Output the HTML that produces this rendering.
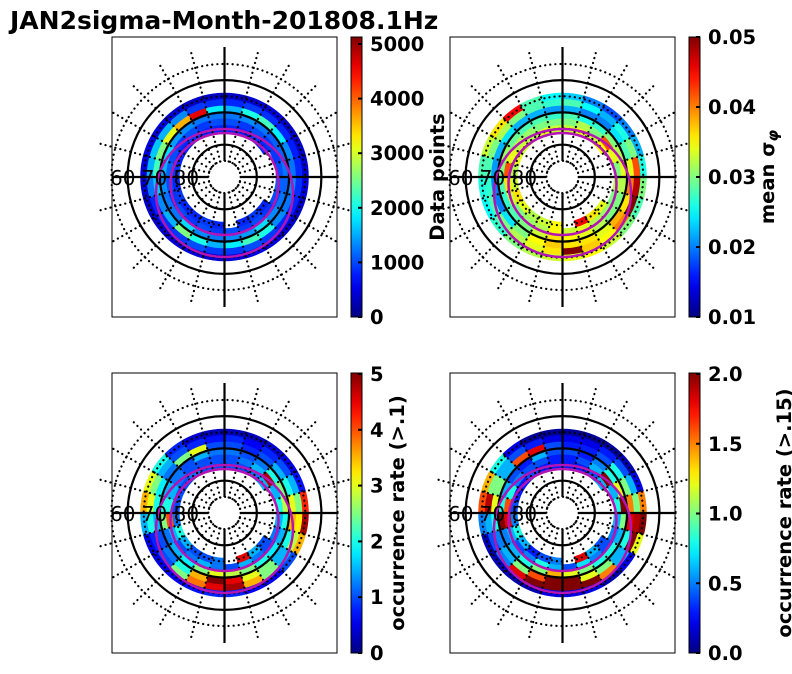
<!DOCTYPE html>
<html><head><meta charset="utf-8"><style>
body{margin:0;background:#fff}
svg{display:block;font-family:"DejaVu Sans","Liberation Sans",sans-serif}
</style></head><body>
<svg id="fig" width="792" height="674" viewBox="0 0 792 674">
<text x="10" y="29" font-size="25" font-weight="bold">JAN2sigma-Month-201808.1Hz</text>
</svg>
<script>
// latitude bin edges (deg) and MLT sectors (24, clockwise from top)
const latEdges=[64,66,68,70,72,74,76];
const N=null;
const dataPoints=[
[350,400,450,350,350,400,450,350,400,450,500,450,400,450,450,400,350,400,450,500,450,400,350,350],
[800,900,850,800,750,800,850,800,800,900,1000,900,900,1000,900,850,800,1200,1500,1600,1500,1300,900,850],
[1500,2000,2200,1800,1300,1200,1300,1200,1300,2000,2200,1800,1500,2000,2500,1500,1300,1600,2200,2500,3000,3500,4500,1800],
[1200,1300,1200,1100,1100,1200,1100,1200,1300,1700,1400,1300,1200,1300,1700,1200,1200,1300,1500,1700,1400,1300,1200,1200],
[1000,900,1000,900,900,1000,1100,1000,900,1000,900,1000,900,1000,900,1000,900,1000,1100,1000,900,1000,900,1000],
[800,800,900,800,N,N,N,N,800,900,800,N,800,900,800,800,900,800,900,800,800,900,800,800]];
const meanSigma=[
[0.023,0.020,0.018,0.020,0.022,0.026,0.030,0.028,0.030,0.033,0.035,0.034,0.033,0.032,0.030,0.027,0.025,0.026,0.028,0.033,0.036,0.045,0.028,0.025],
[0.028,0.025,0.022,0.026,0.030,0.042,0.048,0.050,0.040,0.035,0.037,0.050,0.036,0.034,0.032,0.030,0.028,0.027,0.028,0.030,0.032,0.030,0.028,0.027],
[0.022,0.020,0.020,0.024,0.028,0.034,0.040,0.036,0.038,0.034,0.036,0.036,0.037,0.035,0.030,0.024,0.020,0.020,0.021,0.022,0.024,0.022,0.022,0.021],
[0.028,0.026,0.027,0.030,0.032,0.034,0.032,0.030,0.030,0.032,0.034,0.035,0.036,0.033,0.030,0.028,0.027,0.028,0.030,0.031,0.029,0.028,0.028,0.027],
[0.030,0.032,0.030,0.042,0.034,0.030,0.032,0.030,0.031,0.032,0.034,0.033,0.035,0.032,0.031,0.030,0.033,0.036,0.042,0.034,0.032,0.031,0.030,0.030],
[0.033,0.034,0.033,0.035,N,N,N,N,0.034,0.036,0.045,N,0.035,0.033,0.032,0.034,0.036,0.033,0.032,0.034,0.033,0.032,0.034,0.033]];
const occ1=[
[0.3,0.3,0.4,0.5,0.7,4.2,4.8,3.5,1.0,0.6,0.6,0.8,0.8,0.7,0.6,0.5,0.5,1.5,3.5,3.0,2.0,0.8,0.4,0.3],
[0.8,0.6,0.8,1.0,1.5,2.5,3.2,2.8,1.5,2.5,3.5,4.8,4.5,3.8,2.5,1.0,0.8,2.0,3.0,2.5,1.5,1.0,0.8,0.7],
[1.0,0.8,1.0,1.5,2.0,3.0,3.5,2.0,1.5,2.5,3.0,4.5,5.0,3.5,2.0,1.2,1.0,1.5,2.0,1.8,1.2,2.5,3.0,1.0],
[1.2,1.0,1.2,2.0,2.5,2.8,2.0,1.5,1.8,2.0,2.5,2.8,3.0,2.5,1.8,1.5,1.2,2.5,2.0,1.5,1.2,1.0,1.5,1.2],
[1.0,1.2,1.5,4.8,1.5,2.0,1.5,1.2,1.0,1.2,1.5,1.0,1.2,1.5,1.2,1.0,1.5,4.0,2.0,1.5,1.2,1.0,1.0,1.0],
[1.0,1.0,1.2,1.5,N,N,N,N,1.0,1.5,4.5,N,1.2,1.0,1.0,1.5,2.0,1.2,1.0,1.0,1.0,1.2,1.0,1.0]];
const occ15=[
[0.05,0.05,0.05,0.1,0.2,1.5,2.0,1.2,0.2,0.1,0.2,0.2,0.2,0.1,0.1,0.1,0.1,0.5,1.6,1.4,0.8,0.2,0.05,0.05],
[0.2,0.2,0.3,0.4,0.6,1.0,1.9,2.0,0.6,1.5,2.0,2.0,2.0,2.0,1.8,0.5,0.4,0.6,1.9,1.0,0.6,0.4,0.3,0.2],
[0.3,0.3,0.4,0.8,1.0,1.5,1.8,0.8,0.6,1.0,1.2,2.0,2.0,1.6,1.0,0.6,0.5,0.8,1.2,1.0,0.6,1.6,1.8,0.4],
[0.4,0.3,0.5,0.8,1.2,2.0,1.0,0.6,0.8,0.8,1.0,1.2,1.4,1.0,0.8,0.6,0.5,2.0,0.8,0.6,0.4,0.3,0.6,0.4],
[0.3,0.4,0.6,2.0,0.6,0.8,0.6,0.5,0.4,0.5,0.7,0.4,0.6,0.8,0.5,0.4,0.6,1.8,1.6,0.8,0.5,0.4,0.4,0.3],
[0.3,0.3,0.4,0.6,N,N,N,N,0.4,0.6,1.8,N,0.5,0.4,0.3,0.6,0.8,0.5,0.4,0.3,0.3,0.4,0.3,0.3]];
const cb1Ticks=["0","1000","2000","3000","4000","5000"];
const cb2Ticks=["0.01","0.02","0.03","0.04","0.05"];
const cb3Ticks=["0","1","2","3","4","5"];
const cb4Ticks=["0.0","0.5","1.0","1.5","2.0"];

const NS="http://www.w3.org/2000/svg";
const svg=document.getElementById('fig');
function mk(tag,attrs,parent){const e=document.createElementNS(NS,tag);for(const k in attrs)e.setAttribute(k,attrs[k]);(parent||svg).appendChild(e);return e;}
function jet(t){t=Math.max(0,Math.min(1,t));const c=v=>Math.round(255*Math.max(0,Math.min(1,1.5-Math.abs(v))));return `rgb(${c(4*t-3)},${c(4*t-2)},${c(4*t-1)})`;}
const PX=3.23; // px per degree latitude
function rOf(lat){return (90-lat)*PX;}

const panels=[
 {x:112,y:37,data:dataPoints,min:0,max:5000,cbx:351,cbTop:44,cbBot:317,ticks:cb1Ticks,tmin:0,tmax:5000,label:"Data points",lx:444,name:"data-points"},
 {x:450,y:37,data:meanSigma,min:0.01,max:0.05,cbx:689,cbTop:37,cbBot:317,ticks:cb2Ticks,tmin:0.01,tmax:0.05,label:"mean σ",sub:"φ",lx:774,name:"mean-sigma"},
 {x:112,y:373,data:occ1,min:0,max:5,cbx:351,cbTop:374,cbBot:653,ticks:cb3Ticks,tmin:0,tmax:5,label:"occurrence rate (>.1)",lx:404,name:"occurrence-rate-01"},
 {x:450,y:373,data:occ15,min:0,max:2,cbx:689,cbTop:374,cbBot:653,ticks:cb4Ticks,tmin:0,tmax:2,label:"occurrence rate (>.15)",lx:791,name:"occurrence-rate-015"}];

panels.forEach((p,pi)=>{
 const g=mk('g',{});
 
 
 const cx=p.x+112.5, cy=p.y+140;
 const cells=mk('g',{},g);
 
 
 p.data.forEach((row,ri)=>{
  const r1=rOf(latEdges[ri]), r2=rOf(latEdges[ri+1]);
  row.forEach((v,ci)=>{
   if(v===null)return;
   const a1=(ci*15-90)*Math.PI/180, a2=((ci+1)*15-90)*Math.PI/180;
   const P=(r,a)=>`${(cx+r*Math.cos(a)).toFixed(2)},${(cy+r*Math.sin(a)).toFixed(2)}`;
   const d=`M${P(r1,a1)}A${r1},${r1} 0 0 1 ${P(r1,a2)}L${P(r2,a2)}A${r2},${r2} 0 0 0 ${P(r2,a1)}Z`;
   const c=jet((v-p.min)/(p.max-p.min));
   const e=mk('path',{d:d,fill:c,stroke:c,'stroke-width':0.6},cells);
   
   
  });
 });
 const grid=mk('g',{fill:'none',stroke:'#000'},g);
 
 
 [85,75,65,55].forEach(l=>mk('circle',{cx:cx,cy:cy,r:rOf(l),'stroke-width':2.2,'stroke-dasharray':'0.1 5','stroke-linecap':'round'},grid));
 for(let a=15;a<360;a+=15){if(a%90===0)continue;const t=a*Math.PI/180;
  mk('line',{x1:cx+16*Math.cos(t),y1:cy+16*Math.sin(t),x2:cx+132*Math.cos(t),y2:cy+132*Math.sin(t),'stroke-width':2.2,'stroke-dasharray':'0.1 5','stroke-linecap':'round'},grid);}
 [80,70,60].forEach(l=>mk('circle',{cx:cx,cy:cy,r:rOf(l),'stroke-width':2.2},grid));
 mk('line',{x1:p.x,y1:cy,x2:cx-16,y2:cy,'stroke-width':2.2},grid);
 mk('line',{x1:cx+16,y1:cy,x2:p.x+225,y2:cy,'stroke-width':2.2},grid);
 mk('line',{x1:cx,y1:cy-130,x2:cx,y2:cy-16,'stroke-width':2.2},grid);
 mk('line',{x1:cx,y1:cy+16,x2:cx,y2:cy+130,'stroke-width':2.2},grid);
 const o1=mk('ellipse',{cx:cx,cy:cy+16,rx:68.5,ry:64,fill:'none',stroke:'#b414b4','stroke-width':2.5},g);
 
 
 const o2=mk('ellipse',{cx:cx,cy:cy+7,rx:54,ry:51,fill:'none',stroke:'#b414b4','stroke-width':2.5},g);
 
 
 const lab=mk('text',{x:p.x-2,y:cy+8,'font-size':20,fill:'#000'},g);
 lab.textContent='60 70 80';
 
 
 const box=mk('rect',{x:p.x,y:p.y,width:225,height:280,fill:'none',stroke:'#000','stroke-width':1},g);
 
 
 const gid='cbg'+pi;
 const defs=mk('defs',{},g);
 const lg=mk('linearGradient',{id:gid,x1:0,y1:1,x2:0,y2:0},defs);
 for(let i=0;i<=20;i++)mk('stop',{offset:(i/20),'stop-color':jet(i/20)},lg);
 const cb=mk('rect',{x:p.cbx,y:p.y,width:11,height:280,fill:`url(#${gid})`,stroke:'#000','stroke-width':1},g);
 
 
 p.ticks.forEach((t,i)=>{
  const v=p.tmin+(p.tmax-p.tmin)*i/(p.ticks.length-1);
  const y=p.cbBot-(p.cbBot-p.cbTop)*(v-p.tmin)/(p.tmax-p.tmin);
  mk('line',{x1:p.cbx+7,y1:y,x2:p.cbx+11,y2:y,stroke:'#000','stroke-width':2},g);
  const tx=mk('text',{x:p.cbx+19,y:y+7,'font-size':19.5,'font-weight':'bold'},g);
  tx.textContent=t;
  
  
 });
 const ly=p.y+140;
 const cl=mk('text',{x:p.lx,y:ly,'font-size':19.5,'font-weight':'bold','text-anchor':'middle',transform:`rotate(-90 ${p.lx} ${ly})`},g);
 cl.textContent=p.label;
 if(p.sub){const ts=mk('tspan',{'font-size':15,dy:4,'font-style':'italic'},cl);ts.textContent=p.sub;}
 
 
});
</script>
</body></html>
